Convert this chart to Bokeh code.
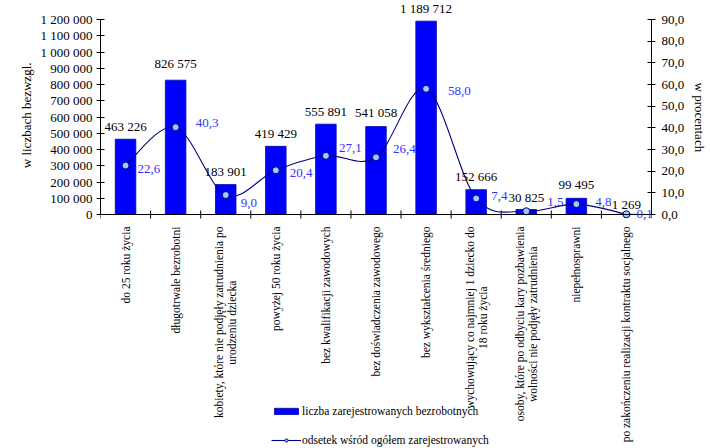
import math
import numpy as np
from bokeh.plotting import figure
from bokeh.models import (Range1d, LinearAxis, FixedTicker, CustomJSTickFormatter,
                          ColumnDataSource, LabelSet, Legend, LegendItem, Span, Title)
from bokeh.embed import file_html
from bokeh.resources import INLINE

# ---------------- data ----------------
categories = [
    "do 25 roku życia",
    "długotrwale bezrobotni",
    "kobiety, które nie podjęły zatrudnienia po\nurodzeniu dziecka",
    "powyżej 50 roku życia",
    "bez kwalifikacji zawodowych",
    "bez doświadczenia zawodowego",
    "bez wykształcenia średniego",
    "wychowujący co najmniej 1 dziecko do\n18 roku życia",
    "osoby, które po odbyciu kary pozbawienia\nwolności nie podjęły zatrudnienia",
    "niepełnosprawni",
    "po zakończeniu realizacji kontraktu socjalnego",
]
counts = [463226, 826575, 183901, 419429, 555891, 541058, 1189712, 152666, 30825, 99495, 1269]
shares = [22.6, 40.3, 9.0, 20.4, 27.1, 26.4, 58.0, 7.4, 1.5, 4.8, 0.1]
count_ticks = list(range(0, 1200001, 100000))
share_ticks = list(range(0, 91, 10))
COUNT_MAX = 1200000
SHARE_MAX = 90
left_title = "w liczbach bezwzgl."
right_title = "w procentach"
bar_name = "liczba zarejestrowanych bezrobotnych"
line_name = "odsetek wśród ogółem zarejestrowanych"

# label nudges (screen px, style only)
bar_label_dy = [13, 17, 13, 13, 13, 14, 13, 13, 12, 14, 10]
pct_label_dx = [12, 20, 15, 14, 13, 17, 22, 15, 21, 19, 10]
pct_label_dy = [-3, 4, -8, -3, 8, 8, -2, 2, 9, 2, 0]

FONT = "Liberation Serif"
BLUE = "#0000ff"
NAVY = "#000080"
CAT_SIZE = 11.5
CAT_GAP = 12        # distance of category labels below the axis line
CAT_LINE = 13       # line spacing of two-line category labels

# layout geometry (canvas px)
W, H = 710, 448
LEFT, RIGHT = 100, 58
TOP_PAD = 19          # space above the top tick inside the frame
AXIS_H = 195          # height of value axis
BOTTOM_PAD = H - TOP_PAD - AXIS_H   # room for category labels + legend

per_px_c = COUNT_MAX / AXIS_H
per_px_s = SHARE_MAX / AXIS_H

# Times/Liberation Serif advance widths (em) for estimating line lengths
_EM = {c: 0.5 for c in "bdghknopquvxyó0123456789ńń"}
_EM.update({c: 0.444 for c in "aceząęzżźć"})
_EM.update({c: 0.278 for c in "ijltł"})
_EM.update({c: 0.333 for c in "fr"})
_EM.update({c: 0.389 for c in "sś"})
_EM.update({"m": 0.778, "w": 0.722, " ": 0.25, ",": 0.25, ".": 0.25})


def text_px(s, size):
    return sum(_EM.get(ch, 0.5) for ch in s) * size


idx = list(range(len(categories)))
bounds = [i - 0.5 for i in range(len(categories) + 1)]
count_text = [f"{v:,}".replace(",", " ") for v in counts]
share_text = [f"{v:.1f}".replace(".", ",") for v in shares]

p = figure(width=W, height=H, output_backend="svg", toolbar_location=None,
           x_range=Range1d(-0.5, len(categories) - 0.5),
           y_range=Range1d(-BOTTOM_PAD * per_px_c, COUNT_MAX + TOP_PAD * per_px_c),
           x_axis_location=None, y_axis_location=None,
           min_border_left=LEFT, min_border_right=RIGHT, min_border_top=0, min_border_bottom=0)
p.extra_y_ranges = {"pct": Range1d(-BOTTOM_PAD * per_px_s, SHARE_MAX + TOP_PAD * per_px_s)}
p.grid.visible = False
p.outline_line_color = None
p.background_fill_color = "white"
p.border_fill_color = "white"

# left axis
yl = LinearAxis(ticker=FixedTicker(ticks=count_ticks), bounds=(0, COUNT_MAX),
                formatter=CustomJSTickFormatter(code=r"return Math.round(tick).toString().replace(/\B(?=(\d{3})+(?!\d))/g, ' ');"))
# right axis
yr = LinearAxis(y_range_name="pct", ticker=FixedTicker(ticks=share_ticks), bounds=(0, SHARE_MAX),
                formatter=CustomJSTickFormatter(code="return tick.toFixed(1).replace('.', ',');"))
for ax in (yl, yr):
    ax.major_tick_in = 4
    ax.major_tick_out = 4
    ax.minor_tick_line_color = None
    ax.axis_line_color = "black"
    ax.major_tick_line_color = "black"
    ax.major_label_text_font = FONT
    ax.major_label_text_font_size = "13px"
    ax.major_label_text_color = "black"
yl.major_label_standoff = 4
yr.major_label_standoff = 6
p.add_layout(yl, "left")
p.add_layout(yr, "right")

# axis titles
p.add_layout(Title(text=left_title, align="right", vertical_align="middle", offset=62, standoff=6,
                   text_font=FONT, text_font_size="13px", text_font_style="normal",
                   text_color="black"), "left")
p.add_layout(Title(text=right_title, align="left", vertical_align="middle", offset=82, standoff=6,
                   text_font=FONT, text_font_size="13px", text_font_style="normal",
                   text_color="black"), "right")

# category axis: base line, boundary ticks, labels
p.add_layout(Span(location=0, dimension="width", line_color="black", line_width=1))
p.scatter(x=bounds, y=[0] * len(bounds), marker="dash", angle=math.pi / 2, size=8,
          line_color="black", line_width=1)

c1x, c1t, c1dx = [], [], []   # first (or only) lines: end at the axis
c2x, c2t, c2dx, c2dy = [], [], [], []   # second lines: centred on the first line
for i, lab in enumerate(categories):
    lines = lab.split("\n")
    if len(lines) == 1:
        c1x.append(i); c1t.append(lines[0]); c1dx.append(0)
    else:
        c1x.append(i); c1t.append(lines[0]); c1dx.append(-CAT_LINE / 2)
        c2x.append(i); c2t.append(lines[1]); c2dx.append(CAT_LINE / 2)
        c2dy.append(-(CAT_GAP + text_px(lines[0], CAT_SIZE) / 2))
cat_style = dict(angle=math.pi / 2, text_baseline="middle", text_font=FONT,
                 text_font_size=f"{CAT_SIZE}px", text_color="black")
p.add_layout(LabelSet(x="x", y="y", text="t", x_offset="dx", y_offset=-CAT_GAP, text_align="right",
                      source=ColumnDataSource(dict(x=c1x, y=[0] * len(c1x), t=c1t, dx=c1dx)),
                      **cat_style))
p.add_layout(LabelSet(x="x", y="y", text="t", x_offset="dx", y_offset="dy", text_align="center",
                      source=ColumnDataSource(dict(x=c2x, y=[0] * len(c2x), t=c2t, dx=c2dx, dy=c2dy)),
                      **cat_style))

# bars
bars = p.vbar(x=idx, top=counts, width=0.41, fill_color=BLUE, line_color="#0000aa", line_width=0.8)

# smoothed line (Catmull-Rom bezier through the data points)
xs = np.array(idx, dtype=float)
ys = np.array(shares, dtype=float)
n = len(xs)
x0, y0, x1, y1, cx0, cy0, cx1, cy1 = [], [], [], [], [], [], [], []
for i in range(n - 1):
    pa = i - 1 if i > 0 else 0
    pd = i + 2 if i + 2 < n else n - 1
    x0.append(xs[i]); y0.append(ys[i]); x1.append(xs[i + 1]); y1.append(ys[i + 1])
    cx0.append(xs[i] + (xs[i + 1] - xs[pa]) / 6); cy0.append(ys[i] + (ys[i + 1] - ys[pa]) / 6)
    cx1.append(xs[i + 1] - (xs[pd] - xs[i]) / 6); cy1.append(ys[i + 1] - (ys[pd] - ys[i]) / 6)
p.bezier(x0=x0, y0=y0, x1=x1, y1=y1, cx0=cx0, cy0=cy0, cx1=cx1, cy1=cy1,
         y_range_name="pct", line_color=NAVY, line_width=1.1)
pts = p.scatter(x=idx, y=shares, y_range_name="pct", size=7, marker="circle",
                fill_color="#99ccff", line_color=NAVY, line_width=1)
# line renderer used only for the legend glyph (hidden in the plot)
leg_line = p.line(x=idx, y=shares, y_range_name="pct", line_color=NAVY, line_width=1.1,
                  visible=False)

# value labels
bsrc = ColumnDataSource(dict(x=idx, y=counts, t=count_text, dy=bar_label_dy))
p.add_layout(LabelSet(x="x", y="y", text="t", source=bsrc, y_offset="dy",
                      text_align="center", text_baseline="middle",
                      text_font=FONT, text_font_size="13px", text_color="black"))
psrc = ColumnDataSource(dict(x=idx, y=shares, t=share_text, dx=pct_label_dx, dy=pct_label_dy))
p.add_layout(LabelSet(x="x", y="y", text="t", source=psrc, y_range_name="pct",
                      x_offset="dx", y_offset="dy",
                      text_align="left", text_baseline="middle",
                      text_font=FONT, text_font_size="13px", text_color="#3333ff"))

legend = Legend(items=[LegendItem(label=bar_name, renderers=[bars]),
                       LegendItem(label=line_name, renderers=[leg_line, pts])],
                location=(171, 2), orientation="vertical",
                glyph_width=30, glyph_height=8, label_height=12, label_standoff=1,
                spacing=17, padding=0, margin=0,
                label_text_font=FONT, label_text_font_size="11.5px", label_text_color="black",
                border_line_color=None, background_fill_alpha=0)
p.add_layout(legend, "center")

open("out.html", "w").write(file_html(p, INLINE))
